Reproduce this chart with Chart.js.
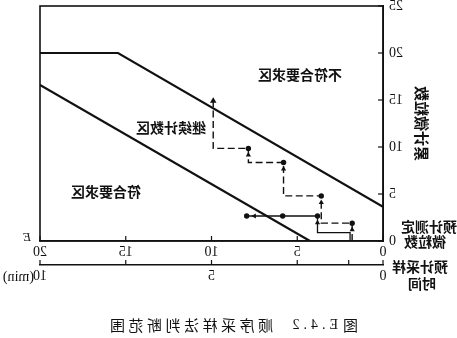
<!DOCTYPE html>
<html><head><meta charset="utf-8">
<script src="https://cdn.jsdelivr.net/npm/chart.js@4.4.1/dist/chart.umd.min.js"></script>
<style>
html,body{margin:0;padding:0;background:#fff;}
#wrap{width:457px;height:338px;transform:scaleX(-1);}
canvas{display:block;}
</style></head><body>
<div id="wrap"><canvas id="c" width="457" height="338"></canvas></div>
<script>
// ---- data ----
const countTicks = [0, 5, 10, 15, 20];
const countTickLabels = ['0', '5', '10', '15', '20'];
const particleTicks = [0, 5, 10, 15, 20, 25];
const particleTickLabels = ['0', '5', '10', '15', '20', '25'];
const timeTicks = [0, 1, 2.5, 5, 7.5, 10];
const timeTickLabels = ['0', '', '', '5', '', '10'];
const upperX = [20, 15.45, 0];
const upperY = [20, 20, 3.65];
const lowerX = [20, 4.26];
const lowerY = [16.6, 0];
const continueX = [1.8, 1.8, 3.6, 3.6, 5.8, 5.8, 7.85, 7.85, 9.9, 9.9];
const continueY = [0, 1.9, 1.9, 4.8, 4.8, 8.35, 8.35, 9.85, 9.85, 15.3];
const continueDots = [0, 1, 0, 1, 0, 1, 0, 1, 0, 0];
const acceptX = [1.92, 1.92, 3.82, 3.82, 5.85, 7.95];
const acceptY = [0, 0.9, 0.9, 2.66, 2.66, 2.66];
const acceptDots = [0, 0, 0, 1, 1, 1];
const arrowX = [9.9, 7.5, 7.85, 5.8, 3.6, 3.82, 1.8];
const arrowY = [14.9, 2.66, 9.15, 7.65, 4.1, 1.95, 1.2];
const arrowDir = [0, 90, 0, 0, 0, 0, 0];
const regionNames = ['不符合要求区', '继续计数区', '符合要求区'];
const regionX = [4.84, 12.36, 16.15];
const regionY = [17.7, 12.1, 5.2];
const yTitle = '累计微粒数';
const xName = ['预计测定', '微粒数'];
const x2Name = ['预计采样', '时间'];
const x2Unit = '(min)';
const xEnd = 'E';
const captionNo = ['图', 'E.4.2'];
const captionText = '顺序采样法判断范围';

const INK = '#111';
const SERIF = 'Liberation Serif';
const CJK = '"Noto Sans CJK SC"';
const pts = (xs, ys) => xs.map((x, i) => ({x, y: ys[i]}));

const decor = {
  id: 'decor',
  afterDraw(chart) {
    const {ctx, chartArea: a, scales} = chart;
    const {x, y, x2} = scales;
    ctx.save();
    ctx.strokeStyle = INK; ctx.fillStyle = INK;
    ctx.lineWidth = 1.6;
    ctx.strokeRect(a.left, a.top, a.right - a.left, a.bottom - a.top);
    ctx.lineWidth = 1.2;
    const seg = (x1, y1, xx, yy) => { ctx.beginPath(); ctx.moveTo(x1, y1); ctx.lineTo(xx, yy); ctx.stroke(); };
    y.ticks.forEach(t => { const p = y.getPixelForValue(t.value); seg(a.left, p, a.left + 5, p); });
    x.ticks.forEach(t => { const p = x.getPixelForValue(t.value); seg(p, a.bottom, p, a.bottom - 5); });
    x2.ticks.forEach(t => { const p = x2.getPixelForValue(t.value); seg(p, x2.top, p, x2.top - 5); });
    // region names
    ctx.font = 'bold 14px ' + CJK; ctx.textAlign = 'center'; ctx.textBaseline = 'middle';
    regionNames.forEach((n, i) => ctx.fillText(n, x.getPixelForValue(regionX[i]), y.getPixelForValue(regionY[i])));
    // axis names at the start side
    ctx.fillText(xName[0], 28, 227);
    ctx.fillText(xName[1], 32, 242);
    ctx.fillText(x2Name[0], 37, 267);
    ctx.fillText(x2Name[1], 35, 284);
    // E and (min)
    ctx.font = 'italic 13px ' + SERIF; ctx.textAlign = 'left';
    ctx.fillText(xEnd, a.right + 9, a.bottom - 3);
    ctx.font = '14px ' + SERIF;
    ctx.fillText(x2Unit, x2.getPixelForValue(10) + 6, x2.top + 12);
    // caption
    ctx.font = '15px ' + CJK; ctx.textAlign = 'left';
    ctx.fillText(captionNo[0], 99, 325);
    ctx.font = '14px ' + SERIF; ctx.letterSpacing = '4px';
    ctx.fillText(captionNo[1], 119, 325);
    ctx.font = '15px ' + CJK; ctx.letterSpacing = '3.5px';
    ctx.fillText(captionText, 184, 325);
    ctx.restore();
  }
};

new Chart(document.getElementById('c'), {
  type: 'line',
  data: {
    datasets: [
      {data: pts(upperX, upperY), borderColor: INK, borderWidth: 2.2, pointRadius: 0, tension: 0},
      {data: pts(lowerX, lowerY), borderColor: INK, borderWidth: 2.2, pointRadius: 0, tension: 0},
      {data: pts(continueX, continueY), borderColor: INK, borderWidth: 1.4, borderDash: [7, 3.5], tension: 0,
        pointRadius: continueDots.map(d => d ? 2.7 : 0), pointBackgroundColor: INK, pointBorderWidth: 0},
      {data: pts(acceptX, acceptY), borderColor: INK, borderWidth: 1.3, tension: 0,
        pointRadius: acceptDots.map(d => d ? 2.7 : 0), pointBackgroundColor: INK, pointBorderWidth: 0},
      {data: pts(arrowX, arrowY), showLine: false, pointStyle: 'triangle', pointRotation: arrowDir,
        pointRadius: arrowDir.map((d, i) => i === 0 ? 3.8 : 3), pointBackgroundColor: INK, pointBorderWidth: 0}
    ]
  },
  options: {
    responsive: false, animation: false, devicePixelRatio: 1,
    layout: {autoPadding: false, padding: {left: 0, right: 40, top: 6, bottom: 40}},
    plugins: {legend: {display: false}, tooltip: {enabled: false}, title: {display: false}},
    scales: {
      x: {
        type: 'linear', position: 'bottom', weight: 0, min: 0, max: 20,
        afterBuildTicks(s) { s.ticks = countTicks.map(v => ({value: v})); },
        ticks: {callback: v => countTickLabels[countTicks.indexOf(v)], font: {family: SERIF, size: 14}, color: INK, padding: 3, maxRotation: 0, autoSkip: false},
        grid: {drawOnChartArea: false, drawTicks: false, color: INK},
        border: {display: true, color: INK, width: 1.6},
        afterFit(s) { s.height = 24; s.paddingLeft = 0; s.paddingRight = 0; }
      },
      x2: {
        type: 'linear', position: 'bottom', weight: 1, min: 0, max: 10,
        afterBuildTicks(s) { s.ticks = timeTicks.map(v => ({value: v})); },
        ticks: {callback: v => timeTickLabels[timeTicks.indexOf(v)], font: {family: SERIF, size: 14}, color: INK, padding: 3, maxRotation: 0, autoSkip: false},
        grid: {drawOnChartArea: false, drawTicks: false, color: INK},
        border: {display: true, color: INK, width: 1.6},
        afterFit(s) { s.height = 33; s.paddingLeft = 0; s.paddingRight = 0; }
      },
      y: {
        type: 'linear', position: 'left', min: 0, max: 25,
        afterBuildTicks(s) { s.ticks = particleTicks.map(v => ({value: v})); },
        ticks: {callback: v => particleTickLabels[particleTicks.indexOf(v)], font: {family: SERIF, size: 14}, color: INK, padding: 6, autoSkip: false},
        grid: {drawOnChartArea: false, drawTicks: false, color: INK},
        border: {display: true, color: INK, width: 1.6},
        title: {display: true, text: yTitle, font: {family: 'Noto Sans CJK SC', size: 15, weight: 'bold'}, color: INK, padding: {top: 26, bottom: 0}},
        afterFit(s) { s.width = 74; s.paddingTop = 0; s.paddingBottom = 0; }
      }
    }
  },
  plugins: [decor]
});
</script>
</body></html>
